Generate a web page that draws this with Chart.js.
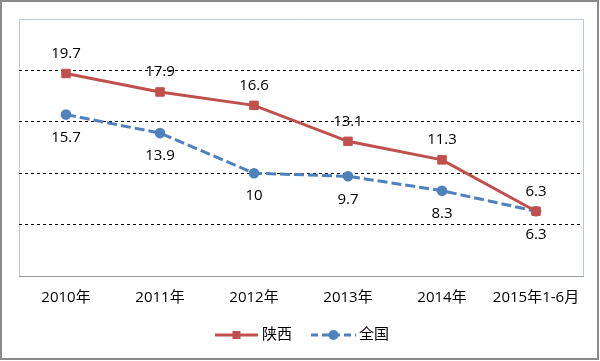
<!DOCTYPE html>
<html>
<head>
<meta charset="utf-8">
<script src="https://cdn.jsdelivr.net/npm/chart.js@4"></script>
<style>
html,body{margin:0;padding:0;background:#fff;}
#wrap{width:600px;height:361px;position:relative;}
</style>
</head>
<body>
<div id="wrap"><canvas id="c" width="600" height="361"></canvas></div>
<script>
const categories = ['2010年','2011年','2012年','2013年','2014年','2015年1-6月'];
const shaanxi = [19.7, 17.9, 16.6, 13.1, 11.3, 6.3];
const national = [15.7, 13.9, 10, 9.7, 8.3, 6.3];
const seriesNames = ['陕西','全国'];
const yMin = 0, yMax = 25, yStep = 5;

const FONT = "'Open Sans','Noto Sans CJK SC',sans-serif";
const RED = '#C0504D', BLUE = '#4F81BD';

const framePlugin = {
  id: 'frame',
  beforeDraw(chart) {
    const ctx = chart.ctx;
    ctx.save();
    ctx.fillStyle = '#fff';
    ctx.fillRect(0, 0, chart.width, chart.height);
    ctx.strokeStyle = '#8a8a8a';
    ctx.lineWidth = 2;
    ctx.strokeRect(1, 1, 597, 358);
    const a = chart.chartArea;
    ctx.strokeStyle = '#B7C9E2';
    ctx.lineWidth = 1;
    ctx.beginPath();
    ctx.moveTo(a.left + 0.5, a.bottom);
    ctx.lineTo(a.left + 0.5, a.top + 0.5);
    ctx.lineTo(a.right + 0.5, a.top + 0.5);
    ctx.lineTo(a.right + 0.5, a.bottom);
    ctx.stroke();
    ctx.restore();
  }
};

const labelPlugin = {
  id: 'vlabels',
  afterDatasetsDraw(chart) {
    const ctx = chart.ctx;
    ctx.save();
    ctx.font = '15px ' + FONT;
    ctx.fillStyle = '#000';
    ctx.textAlign = 'center';
    ctx.textBaseline = 'middle';
    chart.data.datasets.forEach((ds, di) => {
      const meta = chart.getDatasetMeta(di);
      meta.data.forEach((pt, i) => {
        const above = di === 0;
        const y = above ? pt.y - 20 : pt.y + 23;
        ctx.fillText(String(ds.data[i]), pt.x, y);
      });
    });
    ctx.restore();
  }
};

const legendPlugin = {
  id: 'customLegend',
  afterDraw(chart) {
    const ctx = chart.ctx;
    const y = 335;
    const items = [
      {x1: 215, x2: 258, color: RED, dash: [], style: 'rect', text: seriesNames[0], tx: 262},
      {x1: 311, x2: 356, color: BLUE, dash: [7, 4], style: 'circle', text: seriesNames[1], tx: 359}
    ];
    ctx.save();
    items.forEach(it => {
      ctx.strokeStyle = it.color;
      ctx.lineWidth = 3;
      ctx.setLineDash(it.dash);
      ctx.beginPath();
      ctx.moveTo(it.x1, y);
      ctx.lineTo(it.x2, y);
      ctx.stroke();
      ctx.setLineDash([]);
      ctx.fillStyle = it.color;
      const cx = (it.x1 + it.x2) / 2;
      if (it.style === 'rect') {
        ctx.fillRect(cx - 4, y - 4, 8, 8);
      } else {
        ctx.beginPath();
        ctx.arc(cx, y, 5, 0, Math.PI * 2);
        ctx.fill();
      }
      ctx.fillStyle = '#000';
      ctx.font = '15px ' + FONT;
      ctx.textAlign = 'left';
      ctx.textBaseline = 'middle';
      ctx.fillText(it.text, it.tx, y);
    });
    ctx.restore();
  }
};

new Chart(document.getElementById('c'), {
  type: 'line',
  data: {
    labels: categories,
    datasets: [
      {
        label: seriesNames[0],
        data: shaanxi,
        borderColor: RED,
        backgroundColor: RED,
        borderWidth: 3,
        pointStyle: 'rect',
        pointRadius: 6,
        pointBorderWidth: 1,
        pointBorderColor: RED,
        pointBackgroundColor: RED,
        tension: 0,
        fill: false
      },
      {
        label: seriesNames[1],
        data: national,
        borderColor: BLUE,
        backgroundColor: BLUE,
        borderWidth: 3,
        borderDash: [10, 4],
        pointStyle: 'circle',
        pointRadius: 5.3,
        pointBorderWidth: 0,
        pointBackgroundColor: BLUE,
        tension: 0,
        fill: false
      }
    ]
  },
  options: {
    responsive: false,
    animation: false,
    devicePixelRatio: 1,
    layout: { padding: { left: 19, top: 19, right: 17, bottom: 41 } },
    plugins: { legend: { display: false }, tooltip: { enabled: false } },
    scales: {
      x: {
        offset: true,
        grid: { display: false, drawTicks: false },
        border: { display: true, color: '#9a9a9a', width: 1 },
        ticks: { color: '#000', font: { size: 15, family: FONT }, padding: 13, maxRotation: 0, autoSkip: false }
      },
      y: {
        min: yMin, max: yMax,
        ticks: { display: false, stepSize: yStep },
        grid: {
          drawTicks: false,
          color: (c) => (c.tick && c.tick.value > yMin && c.tick.value < yMax) ? '#000' : 'rgba(0,0,0,0)',
          lineWidth: 1
        },
        border: { display: false, dash: [3, 3] }
      }
    }
  },
  plugins: [framePlugin, labelPlugin, legendPlugin]
});
</script>
</body>
</html>
